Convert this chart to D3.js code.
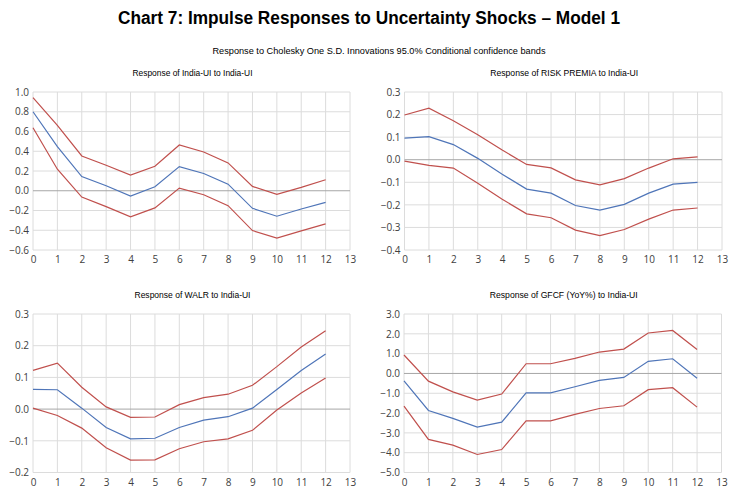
<!DOCTYPE html>
<html>
<head>
<meta charset="utf-8">
<script src="https://cdn.jsdelivr.net/npm/d3@7"></script>
<style>
  body { margin: 0; background: #fff; }
  .tick text { font-family: "Open Sans", "Liberation Sans", sans-serif; font-size: 10px; fill: #404040; }
</style>
</head>
<body>
<div id="vis"></div>
<script>
const W = 738, H = 501;

// horizons 0..12, x axis runs to 13
const horizons = d3.range(0, 13);
const xTicks = d3.range(0, 14);

// Response of India-UI to India-UI
const uiResp  = [0.80, 0.446, 0.144, 0.05, -0.054, 0.04, 0.245, 0.175, 0.067, -0.178, -0.258, -0.185, -0.117];
const uiUpper = [0.943, 0.661, 0.352, 0.258, 0.158, 0.248, 0.463, 0.393, 0.282, 0.044, -0.037, 0.034, 0.111];
const uiLower = [0.638, 0.218, -0.064, -0.161, -0.265, -0.174, 0.027, -0.04, -0.151, -0.403, -0.48, -0.406, -0.336];
const uiTicks = [1.0, 0.8, 0.6, 0.4, 0.2, 0.0, -0.2, -0.4, -0.6];

// Response of RISK PREMIA to India-UI
const rpResp  = [0.096, 0.102, 0.067, 0.006, -0.064, -0.13, -0.148, -0.203, -0.223, -0.198, -0.148, -0.108, -0.10];
const rpUpper = [0.198, 0.228, 0.173, 0.111, 0.043, -0.021, -0.036, -0.089, -0.111, -0.084, -0.037, 0.004, 0.013];
const rpLower = [-0.006, -0.025, -0.037, -0.104, -0.175, -0.24, -0.257, -0.312, -0.336, -0.309, -0.263, -0.223, -0.214];
const rpTicks = [0.3, 0.2, 0.1, 0.0, -0.1, -0.2, -0.3, -0.4];

// Response of WALR to India-UI
const walrResp  = [0.062, 0.061, 0.003, -0.058, -0.094, -0.092, -0.058, -0.035, -0.024, 0.003, 0.062, 0.122, 0.174];
const walrUpper = [0.122, 0.145, 0.069, 0.007, -0.026, -0.025, 0.014, 0.036, 0.047, 0.075, 0.134, 0.196, 0.247];
const walrLower = [0.003, -0.02, -0.06, -0.122, -0.161, -0.16, -0.125, -0.103, -0.094, -0.067, -0.003, 0.051, 0.098];
const walrTicks = [0.3, 0.2, 0.1, 0.0, -0.1, -0.2];

// Response of GFCF (YoY%) to India-UI
const gfcfResp  = [-0.37, -1.87, -2.27, -2.71, -2.46, -0.98, -0.98, -0.67, -0.35, -0.2, 0.61, 0.74, -0.24];
const gfcfUpper = [0.93, -0.39, -0.93, -1.35, -1.04, 0.49, 0.49, 0.76, 1.08, 1.23, 2.04, 2.17, 1.21];
const gfcfLower = [-1.65, -3.33, -3.62, -4.09, -3.84, -2.39, -2.39, -2.07, -1.77, -1.63, -0.82, -0.72, -1.70];
const gfcfTicks = [3.0, 2.0, 1.0, 0.0, -1.0, -2.0, -3.0, -4.0, -5.0];

const panels = [
  {title: 'Response of India-UI to India-UI', resp: uiResp, upper: uiUpper, lower: uiLower, ticks: uiTicks,
   x0: 33, x1: 350, y0: 92, y1: 250, titleY: 76, titleW: 120},
  {title: 'Response of RISK PREMIA to India-UI', resp: rpResp, upper: rpUpper, lower: rpLower, ticks: rpTicks,
   x0: 404.5, x1: 722, y0: 92, y1: 250, titleY: 76, titleW: 148},
  {title: 'Response of WALR to India-UI', resp: walrResp, upper: walrUpper, lower: walrLower, ticks: walrTicks,
   x0: 33, x1: 350, y0: 314, y1: 472.5, titleY: 298, titleW: 116},
  {title: 'Response of GFCF (YoY%) to India-UI', resp: gfcfResp, upper: gfcfUpper, lower: gfcfLower, ticks: gfcfTicks,
   x0: 404, x1: 721.5, y0: 314, y1: 472.5, titleY: 298, titleW: 148}
];

const blue = '#4f75b8', red = '#c0504d';

const svg = d3.select('#vis').append('svg')
  .attr('width', W).attr('height', H);

svg.append('text')
  .attr('x', 369).attr('y', 24)
  .attr('text-anchor', 'middle')
  .attr('textLength', 502).attr('lengthAdjust', 'spacingAndGlyphs')
  .style('font-family', '"Liberation Sans Narrow", "Liberation Sans", Arial, sans-serif')
  .style('font-weight', 'bold').style('font-size', '18px').style('fill', '#000')
  .text('Chart 7: Impulse Responses to Uncertainty Shocks – Model 1');

svg.append('text')
  .attr('x', 379).attr('y', 54)
  .attr('text-anchor', 'middle')
  .attr('textLength', 333).attr('lengthAdjust', 'spacingAndGlyphs')
  .style('font-family', '"Liberation Sans Narrow", "Liberation Sans", Arial, sans-serif')
  .style('font-size', '9.5px').style('fill', '#000')
  .text('Response to Cholesky One S.D. Innovations 95.0% Conditional confidence bands');

panels.forEach(p => {
  const g = svg.append('g');
  const x = d3.scaleLinear().domain([0, 13]).range([p.x0, p.x1]);
  const y = d3.scaleLinear().domain([d3.min(p.ticks), d3.max(p.ticks)]).range([p.y1, p.y0]);

  g.append('text')
    .attr('x', (p.x0 + p.x1) / 2 + 1).attr('y', p.titleY)
    .attr('text-anchor', 'middle')
    .attr('textLength', p.titleW).attr('lengthAdjust', 'spacingAndGlyphs')
    .style('font-family', '"Liberation Sans Narrow", "Liberation Sans", Arial, sans-serif')
    .style('font-size', '9px').style('fill', '#000')
    .text(p.title);

  // gridlines
  g.selectAll('.vgrid').data(xTicks).join('line')
    .attr('x1', d => x(d)).attr('x2', d => x(d))
    .attr('y1', p.y0).attr('y2', p.y1)
    .attr('stroke', '#dcdcdc').attr('stroke-width', 1);
  g.selectAll('.hgrid').data(p.ticks).join('line')
    .attr('x1', p.x0).attr('x2', p.x1)
    .attr('y1', d => y(d)).attr('y2', d => y(d))
    .attr('stroke', d => d === 0 ? '#a6a6a6' : '#dcdcdc').attr('stroke-width', 1);

  // axes, text only
  const yAxis = g.append('g')
    .attr('transform', `translate(${p.x0},0)`)
    .call(d3.axisLeft(y).tickValues(p.ticks).tickFormat(d3.format('.1f')).tickSize(0).tickPadding(4));
  yAxis.select('.domain').remove();

  const xAxis = g.append('g')
    .attr('transform', `translate(0,${p.y1})`)
    .call(d3.axisBottom(x).tickValues(xTicks).tickFormat(d3.format('d')).tickSize(0).tickPadding(6));
  xAxis.select('.domain').remove();

  const line = d3.line().x((d, i) => x(horizons[i])).y(d => y(d));
  [[p.upper, red], [p.lower, red], [p.resp, blue]].forEach(([vals, col]) => {
    g.append('path')
      .datum(vals)
      .attr('d', line)
      .attr('fill', 'none')
      .attr('stroke', col)
      .attr('stroke-width', 1.2);
  });
});
</script>
</body>
</html>
